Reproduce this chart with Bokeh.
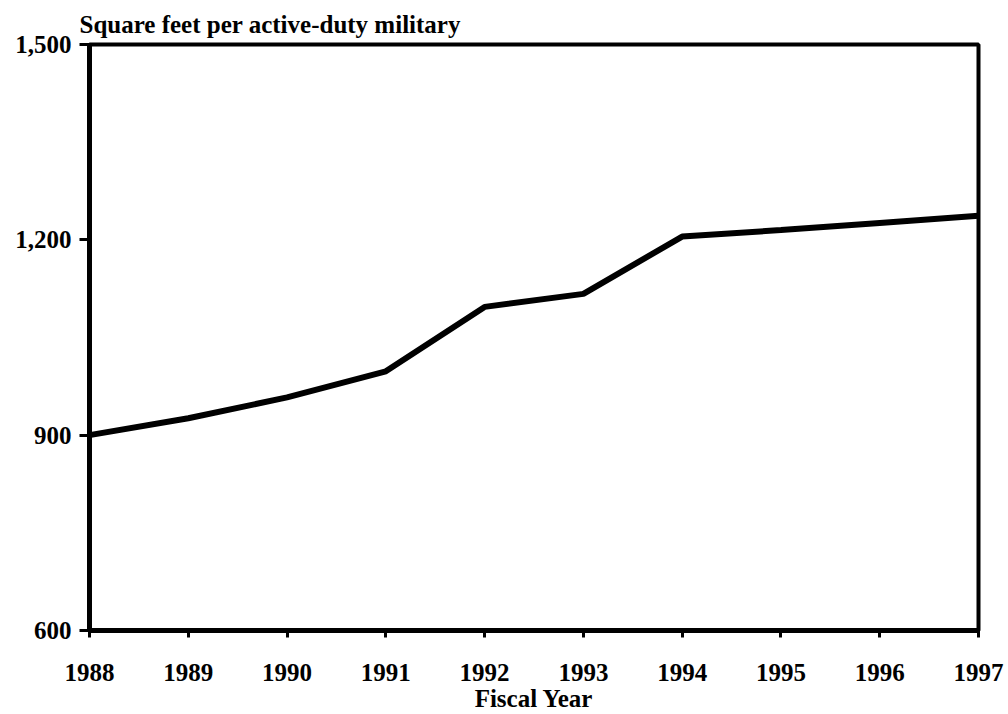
from bokeh.plotting import figure
from bokeh.models import FixedTicker, NumeralTickFormatter, Range1d
from bokeh.embed import file_html
from bokeh.resources import INLINE

years = [1988, 1989, 1990, 1991, 1992, 1993, 1994, 1995, 1996, 1997]
sqft = [900, 926, 958, 998, 1097, 1117, 1205, 1215, 1226, 1237]
y_ticks = [600, 900, 1200, 1500]

FONT = "Liberation Serif"

p = figure(width=1008, height=714, output_backend="svg", toolbar_location=None,
           x_range=Range1d(1988, 1997), y_range=Range1d(600, 1500),
           min_border_left=89, min_border_right=30, min_border_top=44,
           min_border_bottom=82,
           title="Square feet per active-duty military")

p.title.text_font = FONT
p.title.text_font_style = "bold"
p.title.text_font_size = "25px"
p.title.align = "left"
p.title.offset = -10
p.title.standoff = 13
p.title.text_color = "black"

p.line(years, sqft, line_color="black", line_width=6)

p.xgrid.visible = False
p.ygrid.visible = False
p.outline_line_color = "black"
p.outline_line_width = 4
p.outline_line_alpha = 1.0
p.background_fill_color = "white"
p.border_fill_color = "white"

for ax in (p.xaxis[0], p.yaxis[0]):
    ax.axis_line_color = "black"
    ax.axis_line_width = 5
    ax.major_tick_line_color = "black"
    ax.major_tick_line_width = 3
    ax.major_tick_in = 0
    ax.minor_tick_line_color = None
    ax.major_label_text_font = FONT
    ax.major_label_text_font_style = "bold"
    ax.major_label_text_font_size = "25px"
    ax.major_label_text_color = "black"

p.xaxis.ticker = FixedTicker(ticks=years)
p.xaxis.major_tick_out = 7
p.xaxis.major_label_standoff = 26
p.xaxis.axis_label = "Fiscal Year"
p.xaxis.axis_label_text_font = FONT
p.xaxis.axis_label_text_font_style = "bold"
p.xaxis.axis_label_text_font_size = "25px"
p.xaxis.axis_label_text_color = "black"
p.xaxis.axis_label_standoff = 1

p.yaxis.ticker = FixedTicker(ticks=y_ticks)
p.yaxis.formatter = NumeralTickFormatter(format="0,0")
p.yaxis.major_tick_out = 10
p.yaxis.major_label_standoff = 8

open("out.html", "w").write(file_html(p, INLINE))
